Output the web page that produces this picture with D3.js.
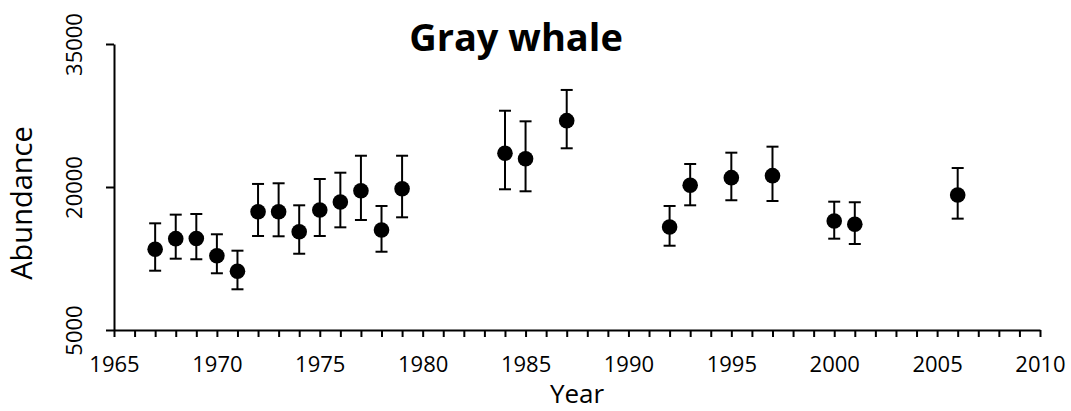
<!DOCTYPE html>
<html>
<head>
<meta charset="utf-8">
<script src="https://cdn.jsdelivr.net/npm/d3@7"></script>
<style>
  body { margin: 0; background: #fff; }
  text { font-family: "Open Sans", sans-serif; fill: #000; }
</style>
</head>
<body>
<div id="chart"></div>
<script>
// Survey years and abundance estimates with error bar limits
const years = [1967, 1968, 1969, 1970, 1971, 1972, 1973, 1974, 1975, 1976, 1977, 1978, 1979,
               1984, 1985, 1987, 1992, 1993, 1995, 1997, 2000, 2001, 2006];
const abundance = [13470, 14580, 14600, 12790, 11160, 17410, 17410, 15310, 17590, 18430, 19610, 15490, 19820,
                   23540, 22970, 26960, 15800, 20180, 20980, 21190, 16430, 16090, 19160];
const lower = [11220, 12480, 12420, 10950, 9270, 14860, 14830, 13000, 14860, 15770, 16540, 13210, 16820,
               19760, 19550, 24060, 13840, 18080, 18610, 18530, 14580, 14020, 16680];
const upper = [16190, 17100, 17170, 15040, 13320, 20320, 20390, 18080, 20840, 21500, 23280, 18010, 23280,
               28000, 26890, 30180, 18010, 22410, 23600, 24230, 18460, 18400, 21990];
const xTicks = [1965, 1970, 1975, 1980, 1985, 1990, 1995, 2000, 2005, 2010];
const yTicks = [5000, 20000, 35000];

const data = years.map((y, i) => ({ year: y, value: abundance[i], lo: lower[i], hi: upper[i] }));

const width = 1071, height = 411;
const margin = { top: 44, right: 31, bottom: 81, left: 114 };

const svg = d3.select("#chart")
    .append("svg")
    .attr("width", width)
    .attr("height", height);

const x = d3.scaleLinear()
    .domain([1965, 2010])
    .range([margin.left, width - margin.right]);

const y = d3.scaleLinear()
    .domain([5000, 35000])
    .range([height - margin.bottom, margin.top]);

// x axis: a tick every year, labels every five
const xAxis = svg.append("g")
    .attr("transform", `translate(0,${height - margin.bottom})`)
    .call(d3.axisBottom(x)
        .tickValues(d3.range(1965, 2011))
        .tickSize(7)
        .tickSizeOuter(0)
        .tickFormat(d => xTicks.includes(d) ? d : ""));

xAxis.select(".domain").attr("stroke-width", 2);
xAxis.selectAll(".tick line").attr("stroke-width", 2);
xAxis.selectAll(".tick text")
    .attr("y", 0)
    .attr("dy", 42)
    .style("font-size", "22px")
    .style("font-family", "'Open Sans', sans-serif");

// y axis
const yAxis = svg.append("g")
    .attr("transform", `translate(${margin.left},0)`)
    .call(d3.axisLeft(y)
        .tickValues(yTicks)
        .tickSize(8)
        .tickSizeOuter(0)
        .tickFormat(d3.format("d")));

yAxis.select(".domain").attr("stroke-width", 2);
yAxis.selectAll(".tick line").attr("stroke-width", 2);
yAxis.selectAll(".tick text")
    .attr("x", 0)
    .attr("dy", 0)
    .attr("transform", "translate(-32,0) rotate(-90)")
    .attr("text-anchor", "middle")
    .style("font-size", "22px")
    .style("font-family", "'Open Sans', sans-serif");

// error bars
const cap = 6;
const bars = svg.append("g")
    .attr("stroke", "#000")
    .attr("stroke-width", 2);

data.forEach(d => {
    const cx = x(d.year);
    bars.append("line")
        .attr("x1", cx).attr("x2", cx)
        .attr("y1", y(d.lo)).attr("y2", y(d.hi));
    bars.append("line")
        .attr("x1", cx - cap).attr("x2", cx + cap)
        .attr("y1", y(d.hi)).attr("y2", y(d.hi));
    bars.append("line")
        .attr("x1", cx - cap).attr("x2", cx + cap)
        .attr("y1", y(d.lo)).attr("y2", y(d.lo));
});

// points
svg.append("g")
    .selectAll("circle")
    .data(data)
    .join("circle")
    .attr("cx", d => x(d.year))
    .attr("cy", d => y(d.value))
    .attr("r", 7.8)
    .attr("fill", "#000");

// title
svg.append("text")
    .attr("x", 516)
    .attr("y", 51)
    .attr("text-anchor", "middle")
    .style("font-size", "38px")
    .style("font-weight", "bold")
    .text("Gray whale");

// axis labels
svg.append("text")
    .attr("x", (margin.left + width - margin.right) / 2)
    .attr("y", 403)
    .attr("text-anchor", "middle")
    .style("font-size", "26px")
    .text("Year");

svg.append("text")
    .attr("transform", `translate(32,${(margin.top + height - margin.bottom) / 2 + 16}) rotate(-90)`)
    .attr("text-anchor", "middle")
    .style("font-size", "29px")
    .text("Abundance");
</script>
</body>
</html>
